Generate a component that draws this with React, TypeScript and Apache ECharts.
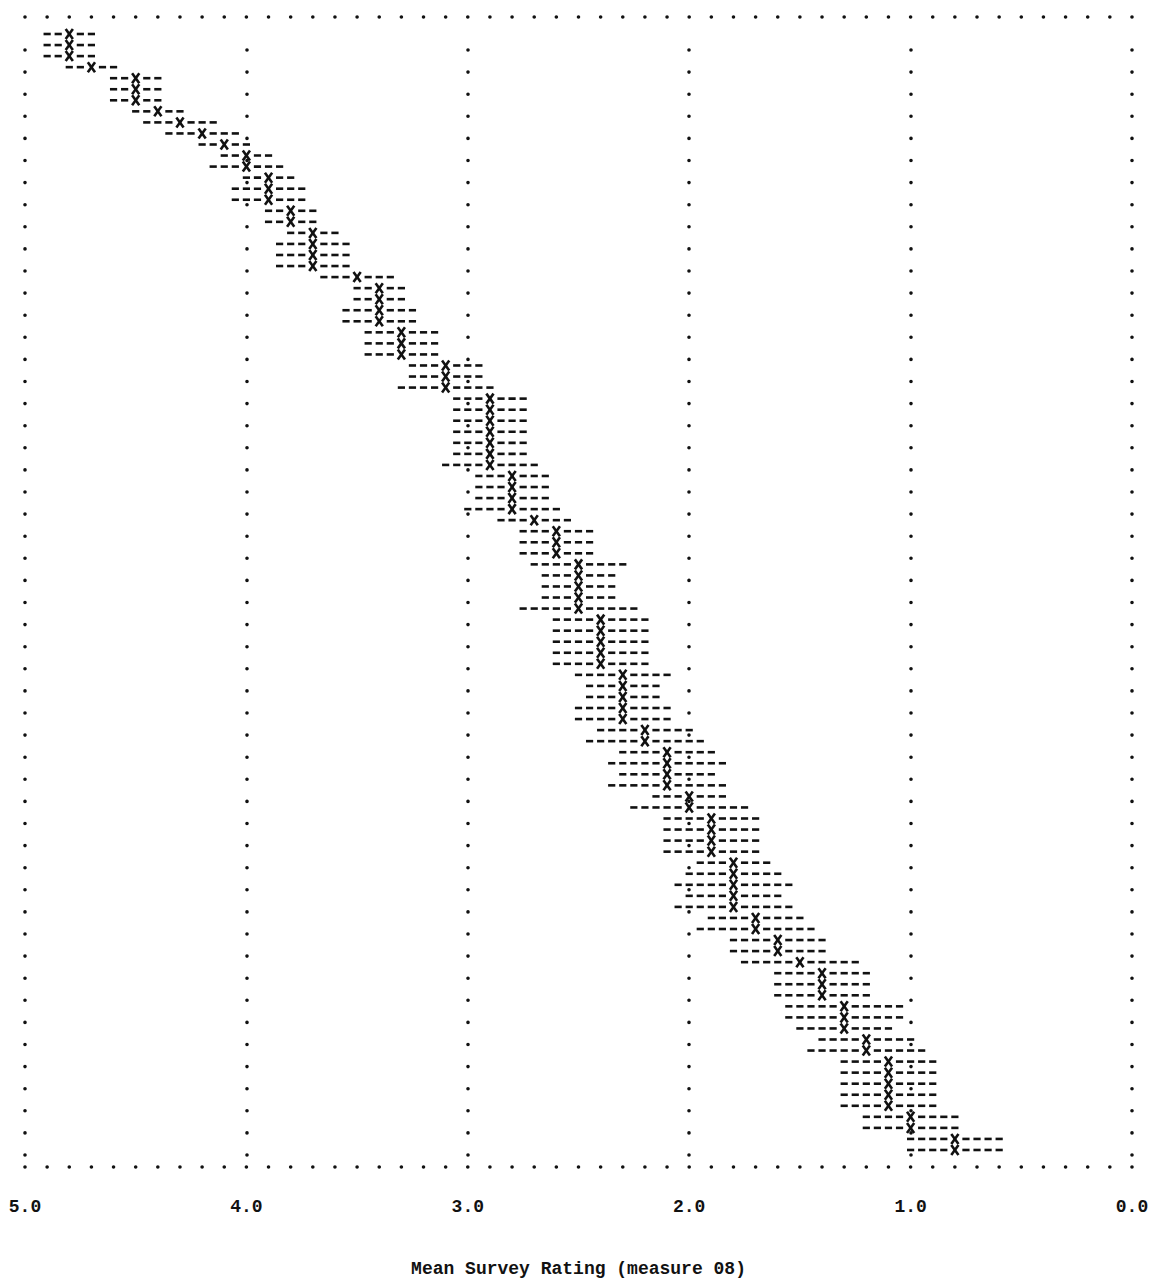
import React, { useEffect, useRef } from "react";
import * as echarts from "echarts";

// Mean rating per respondent group, listed in print order (top to bottom).
const meanRating: number[] = [
  4.8, 4.8, 4.8, 4.7, 4.5, 4.5, 4.5, 4.4, 4.3, 4.2,
  4.1, 4.0, 4.0, 3.9, 3.9, 3.9, 3.8, 3.8, 3.7, 3.7,
  3.7, 3.7, 3.5, 3.4, 3.4, 3.4, 3.4, 3.3, 3.3, 3.3,
  3.1, 3.1, 3.1, 2.9, 2.9, 2.9, 2.9, 2.9, 2.9, 2.9,
  2.8, 2.8, 2.8, 2.8, 2.7, 2.6, 2.6, 2.6, 2.5, 2.5,
  2.5, 2.5, 2.5, 2.4, 2.4, 2.4, 2.4, 2.4, 2.3, 2.3,
  2.3, 2.3, 2.3, 2.2, 2.2, 2.1, 2.1, 2.1, 2.1, 2.0,
  2.0, 1.9, 1.9, 1.9, 1.9, 1.8, 1.8, 1.8, 1.8, 1.8,
  1.7, 1.7, 1.6, 1.6, 1.5, 1.4, 1.4, 1.4, 1.3, 1.3,
  1.3, 1.2, 1.2, 1.1, 1.1, 1.1, 1.1, 1.1, 1.0, 1.0,
  0.8, 0.8,
];

// Half-width of the interval printed around each mean (rating units).
const intervalHalfWidth: number[] = [
  0.10, 0.10, 0.10, 0.10, 0.10, 0.10, 0.10, 0.10, 0.15, 0.15,
  0.10, 0.10, 0.15, 0.10, 0.15, 0.15, 0.10, 0.10, 0.10, 0.15,
  0.15, 0.15, 0.15, 0.10, 0.10, 0.15, 0.15, 0.15, 0.15, 0.15,
  0.15, 0.15, 0.20, 0.15, 0.15, 0.15, 0.15, 0.15, 0.15, 0.20,
  0.15, 0.15, 0.15, 0.20, 0.15, 0.15, 0.15, 0.15, 0.20, 0.15,
  0.15, 0.15, 0.25, 0.20, 0.20, 0.20, 0.20, 0.20, 0.20, 0.15,
  0.15, 0.20, 0.20, 0.20, 0.25, 0.20, 0.25, 0.20, 0.25, 0.15,
  0.25, 0.20, 0.20, 0.20, 0.20, 0.15, 0.20, 0.25, 0.20, 0.25,
  0.20, 0.25, 0.20, 0.20, 0.25, 0.20, 0.20, 0.20, 0.25, 0.25,
  0.20, 0.20, 0.25, 0.20, 0.20, 0.20, 0.20, 0.20, 0.20, 0.20,
  0.20, 0.20,
];

// Rating scale ticks (drawn right to left, 5.0 down to 0.0).
const ratingTicks: number[] = [0, 1, 2, 3, 4, 5];

const axisTitle = "Mean Survey Rating (measure 08)";

// One printed dash covers this much of the rating scale.
const DASH_STEP = 0.05;

const INK = "#111";
const FONT = "'Liberation Mono', 'DejaVu Sans Mono', monospace";

export default function App() {
  const ref = useRef<HTMLDivElement>(null);

  useEffect(() => {
    if (!ref.current) return;
    const chart = echarts.init(ref.current, undefined, { renderer: "svg" });

    const rows = meanRating.map((m, i) => [m, i, intervalHalfWidth[i]]);
    const lastRow = meanRating.length - 1;

    const dotted = (period: number) => ({
      color: INK,
      width: 3.6,
      type: [0.01, period - 0.01],
      cap: "round",
    });

    chart.setOption({
      animation: false,
      backgroundColor: "#fff",
      grid: {
        left: 25,
        right: 17,
        top: 50,
        bottom: 114,
        containLabel: false,
        outerBoundsMode: "none",
      },
      xAxis: [
        {
          type: "value",
          min: ratingTicks[0],
          max: ratingTicks[ratingTicks.length - 1],
          interval: 1,
          inverse: true,
          position: "bottom",
          axisLine: { show: true, onZero: false, lineStyle: dotted(22.14) },
          axisTick: { show: false },
          axisLabel: {
            formatter: (v: number) => v.toFixed(1),
            fontFamily: FONT,
            fontWeight: "bold",
            fontSize: 18,
            color: INK,
            margin: 31,
          },
          splitLine: { show: true, lineStyle: dotted(22.1) },
          name: axisTitle,
          nameLocation: "middle",
          nameGap: 93,
          nameTextStyle: {
            fontFamily: FONT,
            fontWeight: "bold",
            fontSize: 18,
            color: INK,
          },
        },
        {
          type: "value",
          min: ratingTicks[0],
          max: ratingTicks[ratingTicks.length - 1],
          interval: 1,
          inverse: true,
          position: "top",
          offset: 33,
          axisLine: { show: true, onZero: false, lineStyle: dotted(22.14) },
          axisTick: { show: false },
          axisLabel: { show: false },
          splitLine: { show: false },
        },
      ],
      yAxis: {
        type: "value",
        inverse: true,
        min: 1.448,
        max: lastRow + 1.54,
        show: false,
        splitLine: { show: false },
      },
      series: [
        {
          type: "custom",
          xAxisIndex: 0,
          yAxisIndex: 0,
          clip: false,
          encode: { x: 0, y: 1 },
          data: rows,
          renderItem: (params: any, api: any) => {
            const mean = api.value(0);
            const row = api.value(1);
            const half = api.value(2);
            const [cx, cy] = api.coord([mean, row]);
            const cell = Math.abs(api.size([DASH_STEP, 0])[0]);
            const n = Math.round(half / DASH_STEP);
            const children: any[] = [];
            for (let k = 1; k <= n; k++) {
              for (const side of [-1, 1]) {
                const dx = side * k * cell;
                children.push({
                  type: "rect",
                  shape: { x: cx + dx - 3.6, y: cy - 1.3, width: 7.2, height: 2.6 },
                  style: { fill: INK },
                });
              }
            }
            children.push({
              type: "line",
              shape: { x1: cx - 3.6, y1: cy - 5, x2: cx + 3.6, y2: cy + 5 },
              style: { stroke: INK, lineWidth: 2.6 },
            });
            children.push({
              type: "line",
              shape: { x1: cx + 3.6, y1: cy - 5, x2: cx - 3.6, y2: cy + 5 },
              style: { stroke: INK, lineWidth: 2.6 },
            });
            return { type: "group", children };
          },
        },
      ],
    });

    return () => chart.dispose();
  }, []);

  return (
    <div
      ref={ref}
      style={{
        position: "absolute",
        left: 0,
        top: 0,
        width: "1149px",
        height: "1281px",
        background: "#fff",
      }}
    />
  );
}
